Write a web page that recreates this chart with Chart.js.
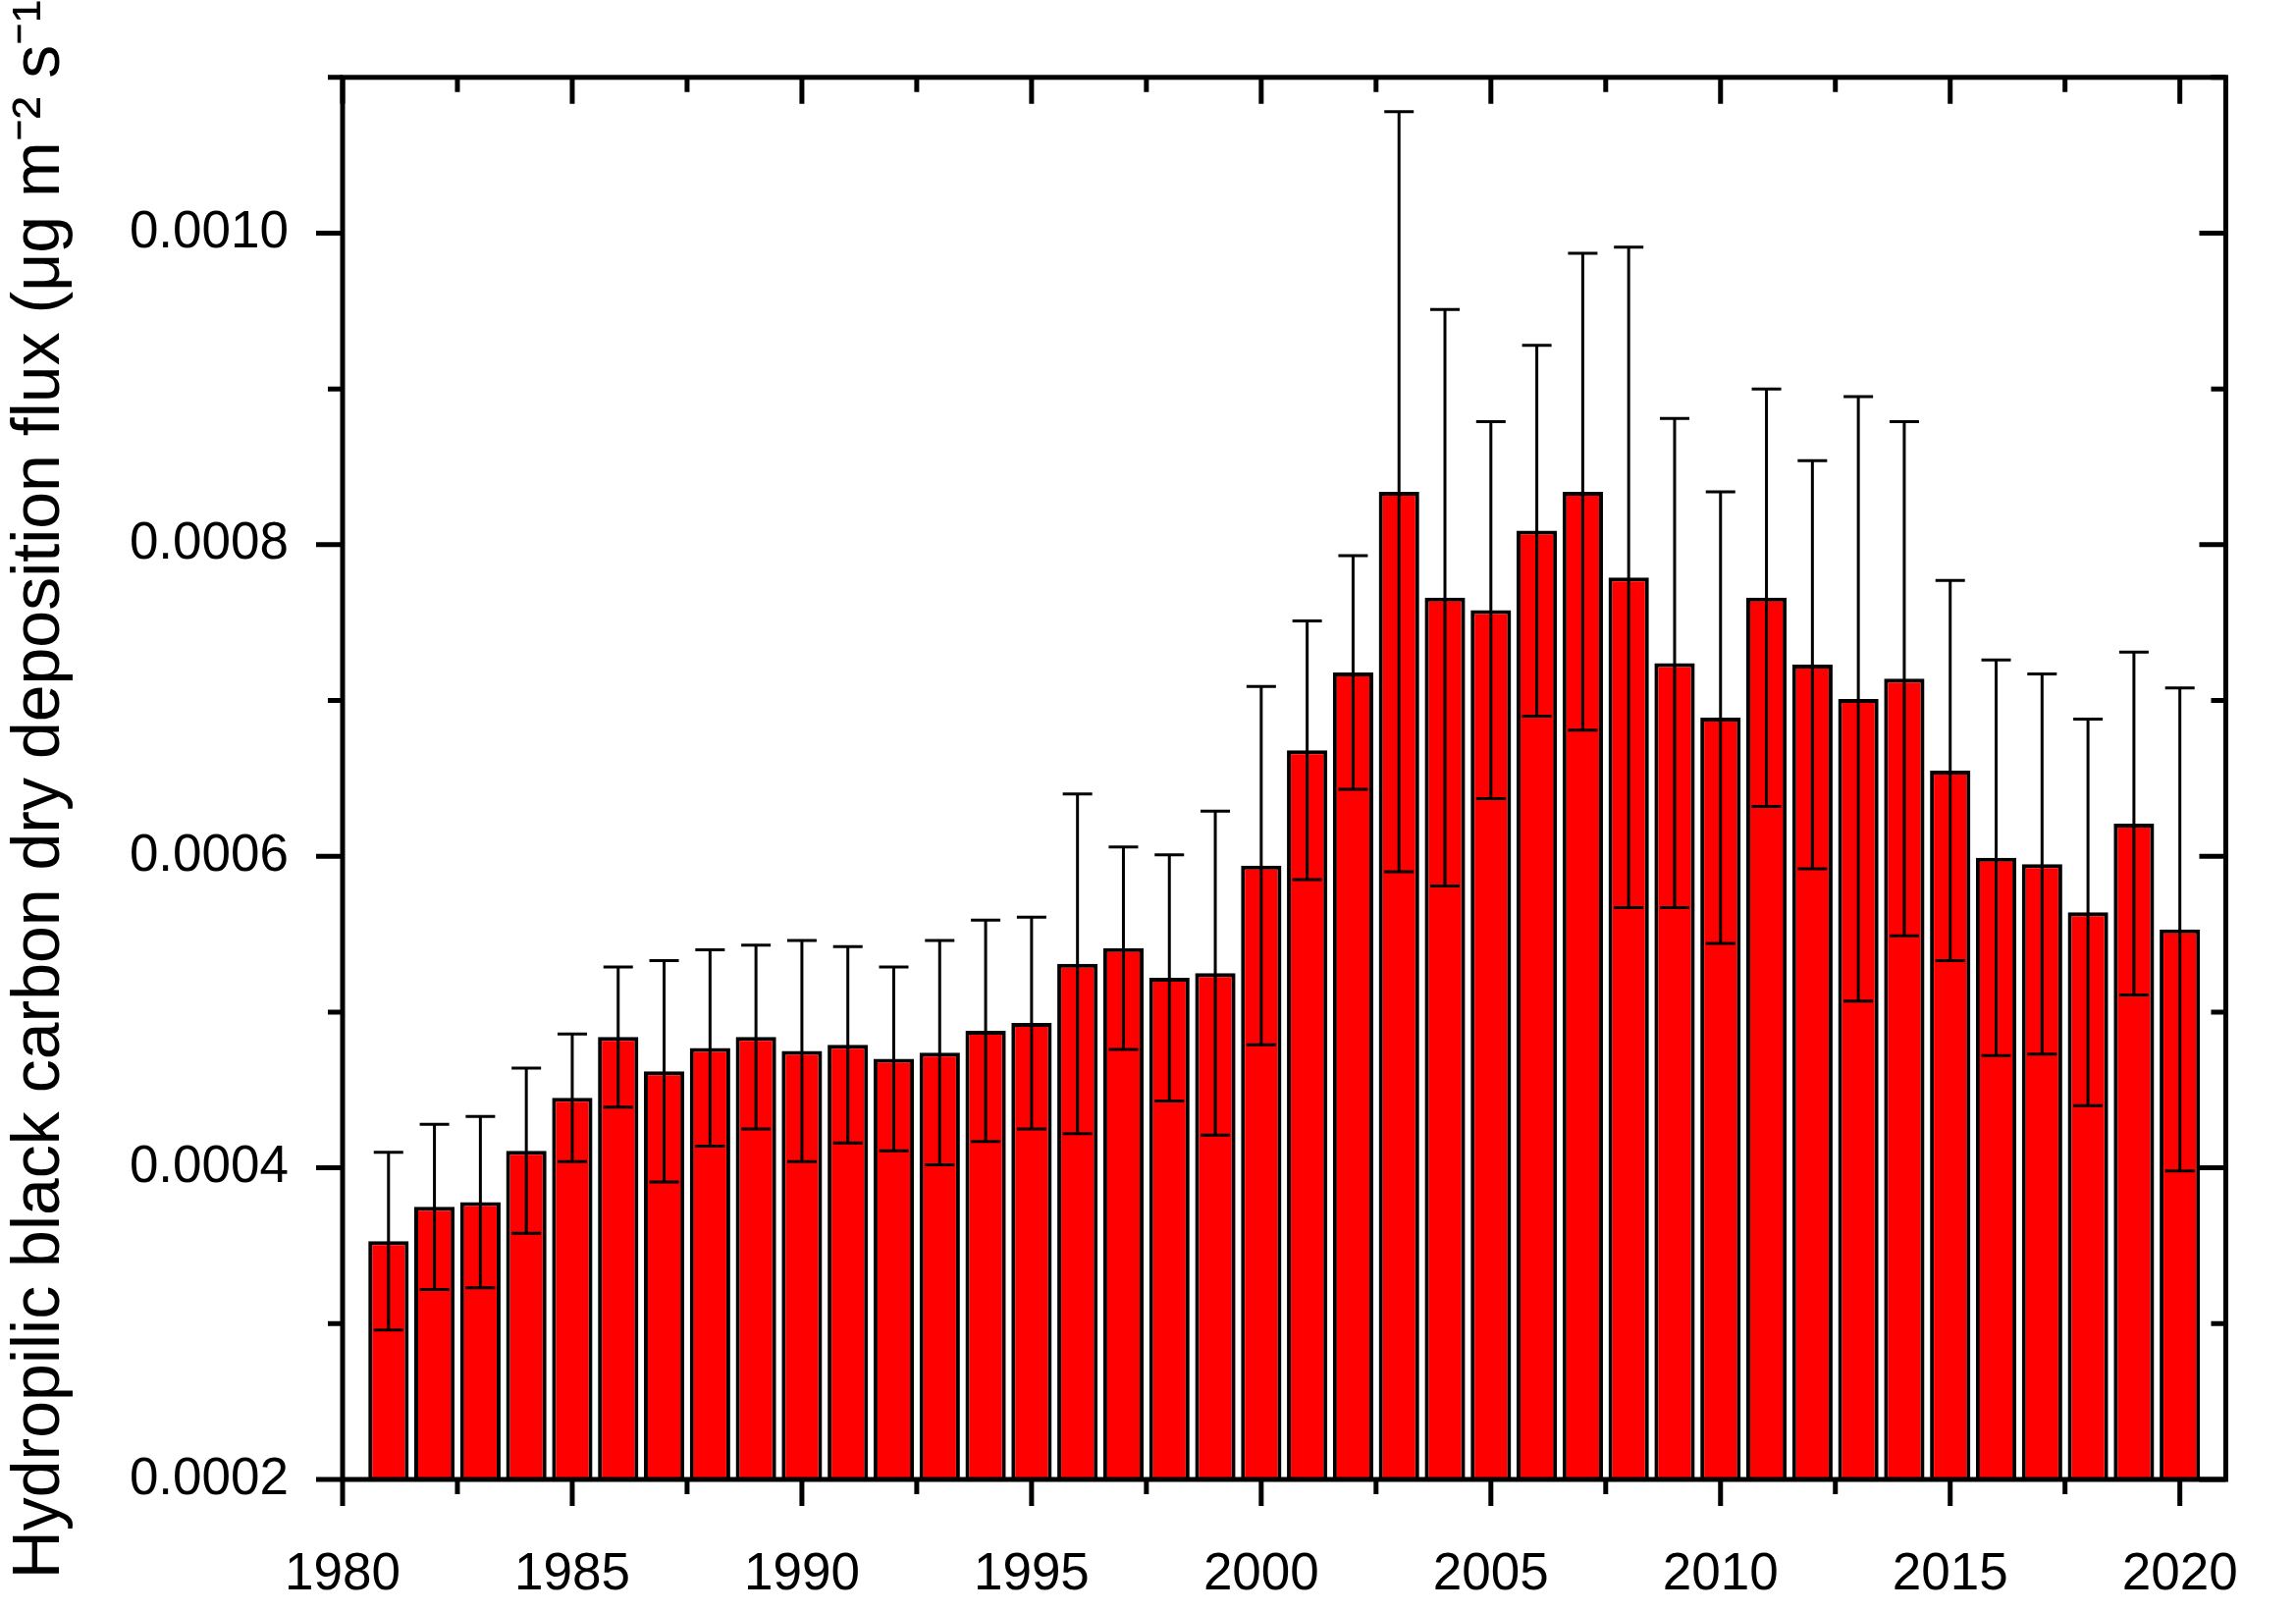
<!DOCTYPE html>
<html>
<head>
<meta charset="UTF-8">
<script src="https://cdn.jsdelivr.net/npm/chart.js"></script>
<style>body{margin:0;background:#fff}</style>
</head>
<body>
<canvas id="c" width="2339" height="1641"></canvas>
<script>
const years = [];
for (let y = 1981; y <= 2020; y++) years.push(y);
const means = [0.000353,0.000375,0.000378,0.000411,0.000445,0.000484,0.000462,0.000477,0.000484,0.000475,
  0.000479,0.000470,0.000474,0.000488,0.000493,0.000531,0.000541,0.000522,0.000525,0.000594,
  0.000668,0.000718,0.000834,0.000766,0.000758,0.000809,0.000834,0.000779,0.000724,0.000689,
  0.000766,0.000723,0.000701,0.000714,0.000655,0.000599,0.000595,0.000564,0.000621,0.000553];
const upper = [0.000410,0.000428,0.000433,0.000464,0.000486,0.000529,0.000533,0.000540,0.000543,0.000546,
  0.000542,0.000529,0.000546,0.000559,0.000561,0.000640,0.000606,0.000601,0.000629,0.000709,
  0.000751,0.000793,0.001078,0.000951,0.000879,0.000928,0.000987,0.000991,0.000881,0.000834,
  0.000900,0.000854,0.000895,0.000879,0.000777,0.000726,0.000717,0.000688,0.000731,0.000708];
const xTicks = [1980,1985,1990,1995,2000,2005,2010,2015,2020];
const yTicks = [0.0002,0.0004,0.0006,0.0008,0.0010];

const frame = {
  id: 'frame',
  afterDatasetsDraw(chart) {
    const {ctx, chartArea: a, scales: {x, y}} = chart;
    ctx.save();
    ctx.strokeStyle = '#000';
    // error bars
    ctx.lineWidth = 3;
    years.forEach((yr, i) => {
      const px = x.getPixelForValue(yr);
      const err = upper[i] - means[i];
      const top = y.getPixelForValue(upper[i]);
      const bot = y.getPixelForValue(means[i] - err);
      ctx.beginPath();
      ctx.moveTo(px, top); ctx.lineTo(px, bot);
      ctx.moveTo(px - 15, top); ctx.lineTo(px + 15, top);
      ctx.moveTo(px - 15, bot); ctx.lineTo(px + 15, bot);
      ctx.stroke();
    });
    // frame and ticks
    ctx.lineWidth = 5;
    ctx.strokeRect(a.left, a.top, a.right - a.left, a.bottom - a.top);
    ctx.beginPath();
    for (let k = 0; k <= 9; k++) {
      const py = y.getPixelForValue(0.0002 + k * 0.0001);
      const len = k % 2 === 0 ? 27 : 15;
      ctx.moveTo(a.left - len, py); ctx.lineTo(a.left, py);
      ctx.moveTo(a.right, py); ctx.lineTo(a.right - len, py);
    }
    for (let t = 1980; t <= 2021; t += 2.5) {
      const px = x.getPixelForValue(t);
      const len = (t % 5 === 0) ? 27 : 15;
      ctx.moveTo(px, a.bottom); ctx.lineTo(px, a.bottom + len);
      ctx.moveTo(px, a.top); ctx.lineTo(px, a.top + len);
    }
    ctx.stroke();
    ctx.restore();
  }
};

new Chart(document.getElementById('c'), {
  type: 'bar',
  data: {
    datasets: [{
      data: years.map((yr, i) => ({x: yr, y: means[i]})),
      backgroundColor: '#ff0000',
      borderColor: '#000',
      borderWidth: 4,
      borderSkipped: false,
      barPercentage: 0.88,
      categoryPercentage: 1
    }]
  },
  options: {
    responsive: false,
    devicePixelRatio: 1,
    animation: false,
    layout: {padding: {top: 45, right: 56}},
    plugins: {legend: {display: false}, tooltip: {enabled: false}},
    scales: {
      x: {
        type: 'linear', min: 1980, max: 2021, offset: false,
        grid: {display: false}, border: {display: false},
        afterBuildTicks: s => { s.ticks = xTicks.map(v => ({value: v})); },
        afterFit: s => { s.height = 134; },
        ticks: {padding: 58, color: '#000', font: {family: 'Liberation Sans', size: 53}, maxRotation: 0,
          callback: v => String(v)}
      },
      y: {
        min: 0.0002, max: 0.0011,
        grid: {display: false}, border: {display: false},
        afterBuildTicks: s => { s.ticks = yTicks.map(v => ({value: v})); },
        afterFit: s => { s.width = 349; },
        ticks: {padding: 47, color: '#000', font: {family: 'Liberation Sans', size: 53},
          callback: v => v.toFixed(4)},
        title: {display: true, text: 'Hydropilic black carbon dry deposition flux (\u03bcg m\u207b\u00b2 s\u207b\u00b9)',
          color: '#000', font: {family: 'Liberation Sans', size: 68}, padding: {top: 0, bottom: 8}}
      }
    }
  },
  plugins: [frame]
});
</script>
</body>
</html>
